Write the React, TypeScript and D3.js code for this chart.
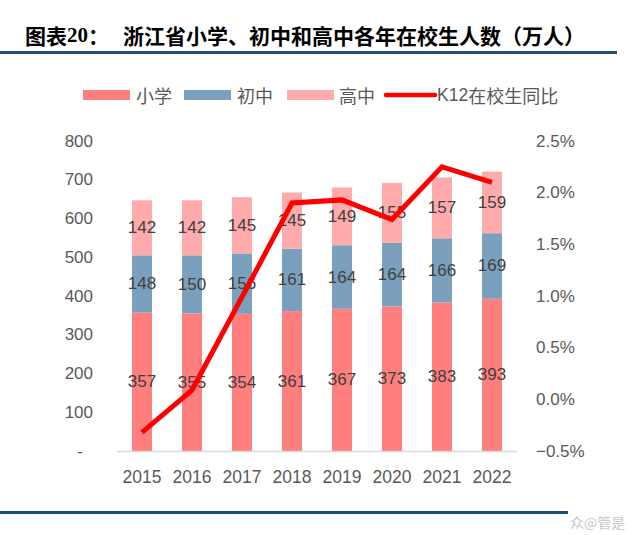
import React from "react";
import * as d3 from "d3";

const years = ["2015", "2016", "2017", "2018", "2019", "2020", "2021", "2022"];
const primary = [357, 355, 354, 361, 367, 373, 383, 393];
const junior = [148, 150, 156, 161, 164, 164, 166, 169];
const senior = [142, 142, 145, 145, 149, 155, 157, 159];
const growth = [-0.0032, 0.0009, 0.0099, 0.019, 0.0193, 0.0174, 0.0225, 0.021];
const leftTicks = [0, 100, 200, 300, 400, 500, 600, 700, 800];
const rightTicks = [-0.005, 0, 0.005, 0.01, 0.015, 0.02, 0.025];
const seriesNames = ["小学", "初中", "高中"];
const lineName = "K12在校生同比";
const colors = ["#FF7F7F", "#7BA0BE", "#FFABAB"];
const lineColor = "#FF0000";

export default function App() {
  const W = 640, H = 535;
  const x = d3.scaleBand<string>().domain(years).range([117, 517]).paddingInner(0.6).paddingOuter(0.3);
  const y = d3.scaleLinear().domain([0, 800]).range([451, 141]);
  const y2 = d3.scaleLinear().domain([-0.005, 0.025]).range([451, 141]);
  const stackData = years.map((yr, i) => ({ year: yr, a: primary[i], b: junior[i], c: senior[i] }));
  const stack = d3.stack<any>().keys(["a", "b", "c"])(stackData);
  const line = d3.line<number>().x((_, i) => (x(years[i]) as number) + x.bandwidth() / 2).y((d) => y2(d));
  const fmtPct = d3.format(".1%");
  const numFont = "'Liberation Sans', Arial, sans-serif";
  const cjk = "'Noto Sans CJK SC', sans-serif";

  const legendItems = [
    { sx: 83, tx: 136, label: seriesNames[0], color: colors[0] },
    { sx: 184, tx: 237, label: seriesNames[1], color: colors[1] },
    { sx: 287, tx: 339, label: seriesNames[2], color: colors[2] },
  ];

  return (
    <svg width={W} height={H} style={{ position: "absolute", left: 0, top: 0, background: "#fff" }}>
      {/* title */}
      <text x={25} y={35} dominantBaseline="central" fontFamily={cjk} fontWeight={700} fontSize={21} fill="#000">
        图表<tspan fontFamily="'Liberation Serif', serif">20</tspan>：
      </text>
      <text x={123} y={35} dominantBaseline="central" fontFamily={cjk} fontWeight={700} fontSize={21} fill="#000">
        浙江省小学、初中和高中各年在校生人数（万人）
      </text>
      <line x1={0} x2={617} y1={52.5} y2={52.5} stroke="#1F4E79" strokeWidth={3} />

      {/* legend */}
      {legendItems.map((it) => (
        <g key={it.label}>
          <rect x={it.sx} y={90} width={47} height={10} fill={it.color} />
          <text x={it.tx} y={95} dominantBaseline="central" fontFamily={cjk} fontSize={18} fill="#595959">
            {it.label}
          </text>
        </g>
      ))}
      <line x1={386} x2={435} y1={95} y2={95} stroke={lineColor} strokeWidth={4.5} strokeLinecap="round" />
      <text x={437} y={95} dominantBaseline="central" fontFamily={cjk} fontSize={18} fill="#595959">
        <tspan fontFamily={numFont} fontSize={17.5}>K12</tspan>在校生同比
      </text>

      {/* bars */}
      {stack.map((layer, li) => (
        <g key={li} fill={colors[li]}>
          {layer.map((d, i) => (
            <rect key={i} x={x(years[i])} width={x.bandwidth()} y={y(d[1])} height={y(d[0]) - y(d[1])} />
          ))}
        </g>
      ))}
      {/* axis baseline */}
      <line x1={117} x2={517} y1={451.5} y2={451.5} stroke="#D9D9D9" strokeWidth={1.5} />

      {/* data labels */}
      {stack.map((layer, li) => (
        <g key={"l" + li}>
          {layer.map((d, i) => (
            <text
              key={i}
              x={(x(years[i]) as number) + x.bandwidth() / 2}
              y={y((d[0] + d[1]) / 2)}
              textAnchor="middle"
              dominantBaseline="central"
              fontFamily={numFont}
              fontSize={17}
              fill="#404040"
            >
              {d[1] - d[0]}
            </text>
          ))}
        </g>
      ))}

      {/* line */}
      <path d={line(growth) || ""} fill="none" stroke={lineColor} strokeWidth={5} strokeLinejoin="miter" />

      {/* left axis */}
      {leftTicks.map((t) => (
        <text
          key={t}
          x={t === 0 ? 83 : 93}
          y={y(t)}
          textAnchor="end"
          dominantBaseline="central"
          fontFamily={numFont}
          fontSize={17}
          fill="#595959"
        >
          {t === 0 ? "-" : t}
        </text>
      ))}
      {/* right axis */}
      {rightTicks.map((t) => (
        <text
          key={t}
          x={536}
          y={y2(t)}
          textAnchor="start"
          dominantBaseline="central"
          fontFamily={numFont}
          fontSize={17}
          fill="#595959"
        >
          {fmtPct(t)}
        </text>
      ))}
      {/* x axis */}
      {years.map((yr) => (
        <text
          key={yr}
          x={(x(yr) as number) + x.bandwidth() / 2}
          y={477}
          textAnchor="middle"
          dominantBaseline="central"
          fontFamily={numFont}
          fontSize={17.5}
          fill="#595959"
        >
          {yr}
        </text>
      ))}

      <line x1={0} x2={568} y1={512.5} y2={512.5} stroke="#1F4E79" strokeWidth={3} />
      <text x={570} y={522} dominantBaseline="central" fontFamily={cjk} fontSize={14} fill="#C8C8C8">
        众@管是
      </text>
    </svg>
  );
}
